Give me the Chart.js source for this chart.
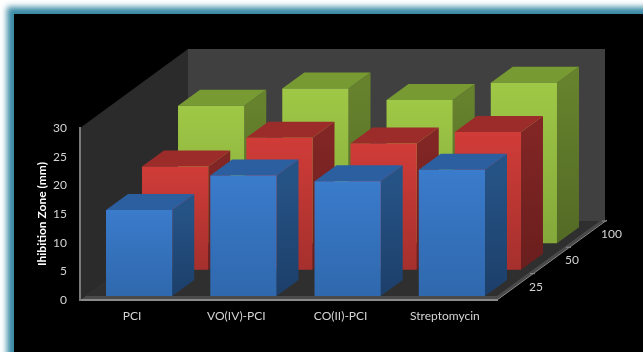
<!DOCTYPE html>
<html>
<head>
<meta charset="utf-8">
<title>Inhibition zone</title>
<script src="https://cdn.jsdelivr.net/npm/chart.js@4"></script>
<style>
  html, body { margin: 0; height: 100%; background: #fff; overflow: hidden; }
  .panel {
    position: absolute; left: 14px; top: 14px; width: 700px; height: 400px;
    background: #000; box-shadow: 0 0 6px 7px #3a8aa5;
  }
  canvas { position: absolute; left: 0; top: 0; }
</style>
</head>
<body>
<div class="panel"></div>
<canvas id="zone-chart" width="643" height="352"></canvas>
<script>
const categories = ['PCI', 'VO(IV)-PCI', 'CO(II)-PCI', 'Streptomycin'];
const depthLabels = ['25', '50', '100'];
const zone25 = [15, 21, 20, 22];
const zone50 = [18, 23, 22, 24];
const zone100 = [24, 27, 25, 28];

// box colours per row: front top, front bottom, lid, side top, side bottom
const blue = ['#3a7bcb', '#2f68ad', '#2b5f9f', '#265386', '#1c3f69'];
const red = ['#d03c38', '#a5302d', '#9c2c2a', '#812625', '#691e1d'];
const green = ['#9fc846', '#84a83a', '#779a33', '#66822d', '#536a25'];

const DEPTH_X = 108, DEPTH_Y = 79;  // floor depth in pixels
const ROW_X = DEPTH_X / 3, ROW_Y = DEPTH_Y / 3;
const BOX_X = 22, BOX_Y = 16;       // depth of one box
const GAP_X = 7, GAP_Y = 4;         // box offset inside its row

function frontFill(row) {
  return ctx => {
    const { chart, raw } = ctx;
    if (!chart.chartArea || raw === undefined) return row[0];
    const y = chart.scales.y;
    const g = chart.ctx.createLinearGradient(0, y.getPixelForValue(raw), 0, y.getPixelForValue(0));
    g.addColorStop(0, row[0]);
    g.addColorStop(1, row[1]);
    return g;
  };
}

function poly(ctx, pts, fill) {
  ctx.beginPath();
  pts.forEach((p, i) => i ? ctx.lineTo(p[0], p[1]) : ctx.moveTo(p[0], p[1]));
  ctx.closePath();
  ctx.fillStyle = fill;
  ctx.fill();
}

const walls = {
  id: 'walls',
  beforeDraw(chart) {
    const { ctx, chartArea: a } = chart;
    const y0 = chart.scales.y.getPixelForValue(0);
    const y30 = chart.scales.y.getPixelForValue(30);
    const backX = a.left + DEPTH_X, backY = y0 - DEPTH_Y;
    poly(ctx, [[a.left, y30], [backX, y30 - DEPTH_Y], [backX, backY], [a.left, y0]], '#2b2b2b');
    poly(ctx, [[backX, y30 - DEPTH_Y], [a.right + DEPTH_X, y30 - DEPTH_Y], [a.right + DEPTH_X, backY], [backX, backY]], '#404040');
    // floor slab: lighter rim along the front and right edges
    poly(ctx, [[a.left, y0], [a.right, y0], [a.right + DEPTH_X, backY], [backX, backY]], '#4a4a4a');
    poly(ctx, [[a.left + 6, y0 - 4], [a.right, y0 - 4], [a.right + DEPTH_X - 5, backY], [backX, backY]], '#2f2f2f');
  }
};

// pushes each dataset back to its row and draws the lid and side of its bars
const boxes = {
  id: 'boxes',
  beforeDatasetDraw(chart, args) {
    const ctx = chart.ctx;
    const row = [blue, red, green][args.index];
    ctx.save();
    ctx.translate(GAP_X + args.index * ROW_X, -GAP_Y - args.index * ROW_Y);
    args.meta.data.forEach(bar => {
      const { x, y, base, width } = bar.getProps(['x', 'y', 'base', 'width'], true);
      const r = x + width / 2, l = x - width / 2;
      const g = ctx.createLinearGradient(0, y, 0, base);
      g.addColorStop(0, row[3]);
      g.addColorStop(1, row[4]);
      poly(ctx, [[r, y], [r + BOX_X, y - BOX_Y], [r + BOX_X, base - BOX_Y], [r, base]], g);
      poly(ctx, [[l, y], [l + BOX_X, y - BOX_Y], [r + BOX_X, y - BOX_Y], [r, y]], row[2]);
    });
  },
  afterDatasetDraw(chart) {
    chart.ctx.restore();
  }
};

// depth axis along the right edge of the floor
const depthAxis = {
  id: 'depthAxis',
  afterDraw(chart) {
    const { ctx, chartArea: a } = chart;
    const y0 = chart.scales.y.getPixelForValue(0);
    ctx.save();
    ctx.strokeStyle = '#8a8a8a';
    ctx.lineWidth = 1;
    ctx.beginPath();
    ctx.moveTo(a.right, y0);
    ctx.lineTo(a.right + DEPTH_X + 2, y0 - DEPTH_Y - 1);
    for (let i = 1; i <= depthLabels.length; i++) {
      const x = a.right + i * ROW_X, y = y0 - i * ROW_Y;
      ctx.moveTo(x - 3, y);
      ctx.lineTo(x + 2, y);
    }
    ctx.stroke();
    ctx.fillStyle = '#d4d4d4';
    ctx.font = '12px Lato';
    ctx.textBaseline = 'middle';
    depthLabels.forEach((label, i) => {
      ctx.fillText(label, a.right + (i + 0.5) * ROW_X + 14, y0 - (i + 0.5) * ROW_Y);
    });
    ctx.restore();
  }
};

function rowDataset(label, values, row) {
  return {
    label,
    data: values,
    backgroundColor: frontFill(row),
    borderWidth: 0,
    barPercentage: 0.635,
    categoryPercentage: 1,
    grouped: false,
    clip: false
  };
}

new Chart(document.getElementById('zone-chart'), {
  type: 'bar',
  data: {
    labels: categories,
    datasets: [
      rowDataset(depthLabels[0], zone25, blue),
      rowDataset(depthLabels[1], zone50, red),
      rowDataset(depthLabels[2], zone100, green)
    ]
  },
  options: {
    responsive: false,
    animation: false,
    layout: { padding: { top: 128, right: 146, left: 0, bottom: 0 } },
    plugins: { legend: { display: false }, tooltip: { enabled: false } },
    scales: {
      x: {
        grid: { display: false },
        border: { color: '#8a8a8a', width: 2 },
        ticks: { color: '#d4d4d4', font: { family: 'Lato', size: 12 }, padding: 1, maxRotation: 0 },
        afterFit(s) { s.height = 52; }
      },
      y: {
        min: 0,
        max: 30,
        grid: { display: false },
        border: { color: '#7a7a7a', width: 2 },
        ticks: { stepSize: 5, color: '#d4d4d4', font: { family: 'Lato', size: 12 }, padding: 5 },
        title: {
          display: true,
          text: 'Ihibition Zone (mm)',
          color: '#fff',
          font: { family: 'Lato', size: 12, weight: 'bold' },
          padding: { top: 35, bottom: 0 }
        },
        afterFit(s) { s.width = 80; }
      }
    }
  },
  plugins: [walls, boxes, depthAxis]
});
</script>
</body>
</html>
